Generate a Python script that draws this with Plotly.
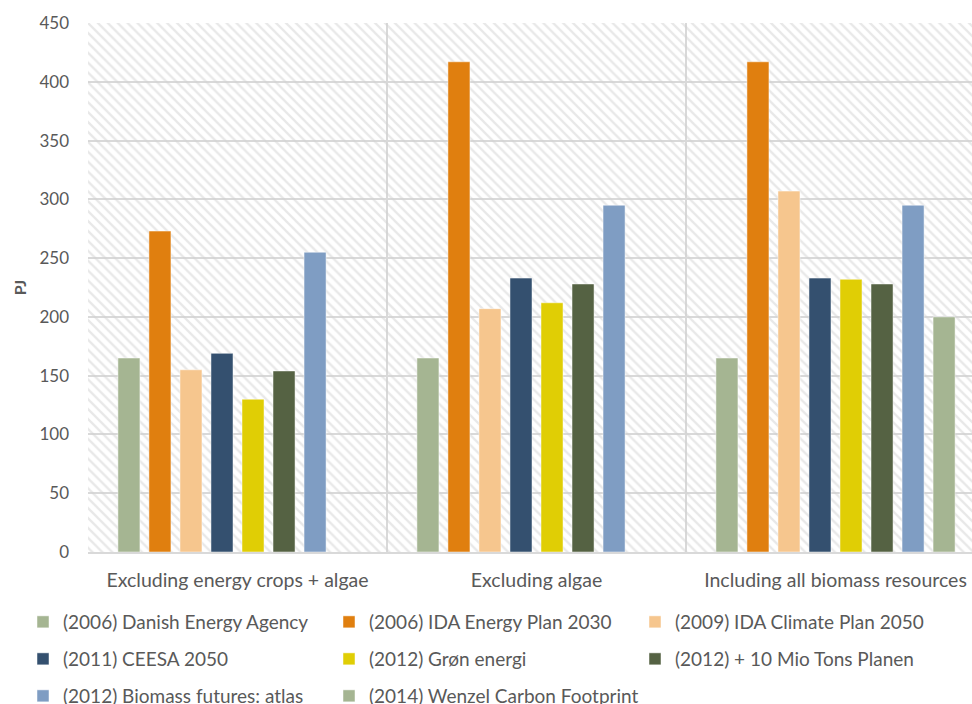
import plotly.graph_objects as go

categories = ["Excluding energy crops + algae", "Excluding algae", "Including all biomass resources"]

series_names = [
    "(2006) Danish Energy Agency",
    "(2006) IDA Energy Plan 2030",
    "(2009) IDA Climate Plan 2050",
    "(2011) CEESA 2050",
    "(2012) Grøn energi",
    "(2012) + 10 Mio Tons Planen",
    "(2012) Biomass futures: atlas",
    "(2014) Wenzel Carbon Footprint",
]

dea = [165, 165, 165]
ida_2030 = [273, 417, 417]
ida_2050 = [155, 207, 307]
ceesa = [169, 233, 233]
gron = [130, 212, 232]
mio10 = [154, 228, 228]
biomass = [255, 295, 295]
wenzel = [None, None, 200]

series_values = [dea, ida_2030, ida_2050, ceesa, gron, mio10, biomass, wenzel]
colors = ["#A5B592", "#E07F0F", "#F6C68E", "#34506F", "#E0CE05", "#556243", "#7F9DC3", "#A5B592"]
legend_ids = ["legend", "legend", "legend", "legend2", "legend2", "legend2", "legend3", "legend3"]

y_ticks = [0, 50, 100, 150, 200, 250, 300, 350, 400, 450]

FONT = "Lato"
GREY = "#595959"

fig = go.Figure()

# hatched plot background (decorative)
fig.add_trace(go.Bar(
    x=[0.5], y=[450], width=[1], xaxis="x", yaxis="y",
    marker=dict(color="rgba(0,0,0,0)", line=dict(width=0),
                pattern=dict(shape="\\", fgcolor="#d2d2d2", size=7, solidity=0.33)),
    showlegend=False, hoverinfo="skip",
))

for name, vals, col, lg in zip(series_names, series_values, colors, legend_ids):
    fig.add_trace(go.Bar(
        x=categories, y=vals, name=name, xaxis="x2", yaxis="y",
        marker=dict(color=col, line=dict(color="rgba(255,255,255,0.6)", width=0.8)),
        legend=lg,
    ))

# invisible spacer entry so the last legend row is not clipped
fig.add_trace(go.Scatter(x=[None], y=[None], mode="lines", name=" ",
                         line=dict(color="rgba(0,0,0,0)", width=0), legend="legend3",
                         xaxis="x", yaxis="y", hoverinfo="skip"))

W, H = 972, 704
L, T, B = 88, 23, 152
plot_h = H - T - B
plot_w = W - L

def py(Y):
    return (H - B - Y) / plot_h

def px(X):
    return (X - L) / plot_w

leg_common = dict(orientation="h", entrywidth=261, entrywidthmode="pixels",
                  font=dict(family=FONT, size=19, color=GREY),
                  xanchor="left", yanchor="middle", bgcolor="rgba(0,0,0,0)",
                  itemclick=False, itemdoubleclick=False)

fig.update_layout(
    width=W, height=H,
    margin=dict(l=L, r=0, t=T, b=B, autoexpand=False),
    paper_bgcolor="white", plot_bgcolor="white",
    barmode="group", bargap=0.17, bargroupgap=0.29,
    font=dict(family=FONT, color=GREY),
    xaxis=dict(range=[0, 1], visible=False, showgrid=False, zeroline=False, fixedrange=True),
    xaxis2=dict(overlaying="x", anchor="y", side="bottom", type="category",
                range=[-0.5, 2.5 - 13 / 299],
                tickson="boundaries", showgrid=True, gridcolor="#d9d9d9", gridwidth=1.5,
                showline=True, linecolor="#d9d9d9", linewidth=1.5,
                ticks="", ticklabelstandoff=10,
                tickfont=dict(family=FONT, size=19.5, color=GREY)),
    yaxis=dict(range=[0, 450], tickvals=y_ticks, showgrid=True, gridcolor="#d9d9d9", gridwidth=1.5,
               zeroline=False, showline=False, ticks="", ticklabelstandoff=18,
               tickfont=dict(family=FONT, size=17, color=GREY),
               title=dict(text="<b>PJ</b>", font=dict(family=FONT, size=16, color=GREY), standoff=8)),
    legend=dict(x=px(23), y=py(622), **leg_common),
    legend2=dict(x=px(23), y=py(659), **leg_common),
    legend3=dict(x=px(23), y=py(696), **leg_common),
)

fig.write_html(
    "out.html",
    config={"displayModeBar": False},
    post_script="document.body.style.margin='0';document.body.style.overflow='hidden';",
)
